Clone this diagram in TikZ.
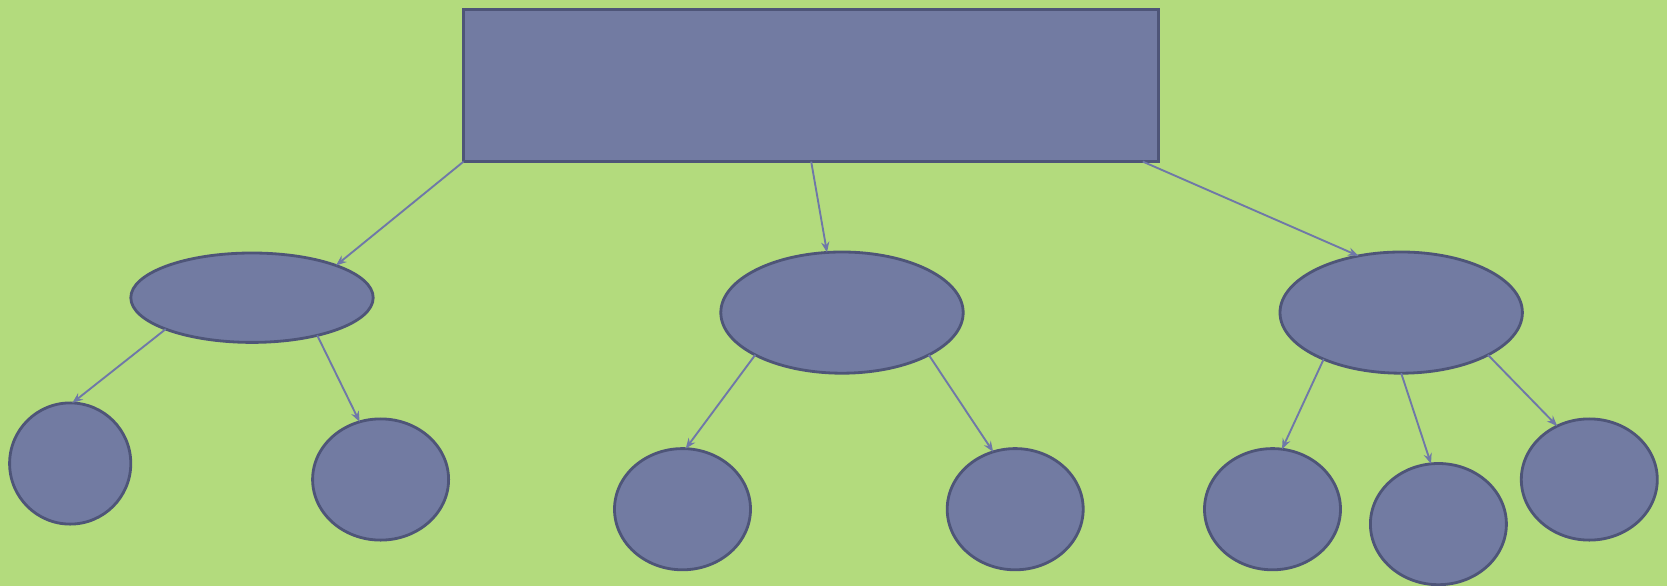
\documentclass[tikz,border=0pt]{standalone}
\usetikzlibrary{shapes.geometric,arrows.meta}
\definecolor{bgc}{HTML}{B3DB7D}
\definecolor{fillc}{HTML}{727BA2}
\definecolor{borderc}{HTML}{4E5578}
\definecolor{edgec}{HTML}{6F78A8}
\begin{document}
\begin{tikzpicture}[x=0.03cm,y=-0.03cm,
  box/.style={draw=borderc,fill=fillc,line width=2.4pt,inner sep=0pt,outer sep=0pt},
  rootbox/.style={box,rectangle,minimum width=695.3*0.03cm,minimum height=152*0.03cm},
  midnode/.style={box,ellipse,minimum width=242.4*0.03cm,minimum height=121.2*0.03cm},
  leafnode/.style={box,ellipse,minimum width=136*0.03cm,minimum height=121.2*0.03cm},
  link/.style={draw=edgec,line width=1.6pt,-{Stealth[length=9pt,width=7pt,inset=3pt]}}]
\fill[bgc] (0,0) rectangle (1667,586);
\useasboundingbox (0,0) rectangle (1667,586);
\node[rootbox] (top) at (811.2,85.6) {};
\node[box,ellipse,minimum width=242.4*0.03cm,minimum height=89.4*0.03cm] (e1) at (252,297.7) {};
\node[midnode] (e2) at (842,312.6) {};
\node[midnode] (e3) at (1401.2,312.6) {};
\node[box,ellipse,minimum width=121.2*0.03cm,minimum height=121.2*0.03cm] (l1) at (70.2,463.5) {};
\node[leafnode] (l2) at (380.6,479.5) {};
\node[leafnode] (l3) at (682.5,509.2) {};
\node[leafnode] (l4) at (1015.2,509.2) {};
\node[leafnode] (l5) at (1272.5,509.2) {};
\node[leafnode] (l6) at (1438.4,524.1) {};
\node[leafnode] (l7) at (1589.3,479.5) {};
\coordinate (tse) at (1142.8,161.6);
\draw[link] (top.south west) -- (e1.21.7);
\draw[link] (top.south) -- (e2.104.5);
\draw[link] (tse) -- (e3.127);
\draw[link] (e1.200.7) -- (l1.88);
\draw[link] (e1.-30.5) -- (l2.110.4);
\draw[link] (e2.206.5) -- (l3.87);
\draw[link] (e2.-26.8) -- (l4.111.3);
\draw[link] (e3.211) -- (l5.81.3);
\draw[link] (e3.south) -- (l6.97.8);
\draw[link] (e3.-26.8) -- (l7.121.3);
\end{tikzpicture}
\end{document}
